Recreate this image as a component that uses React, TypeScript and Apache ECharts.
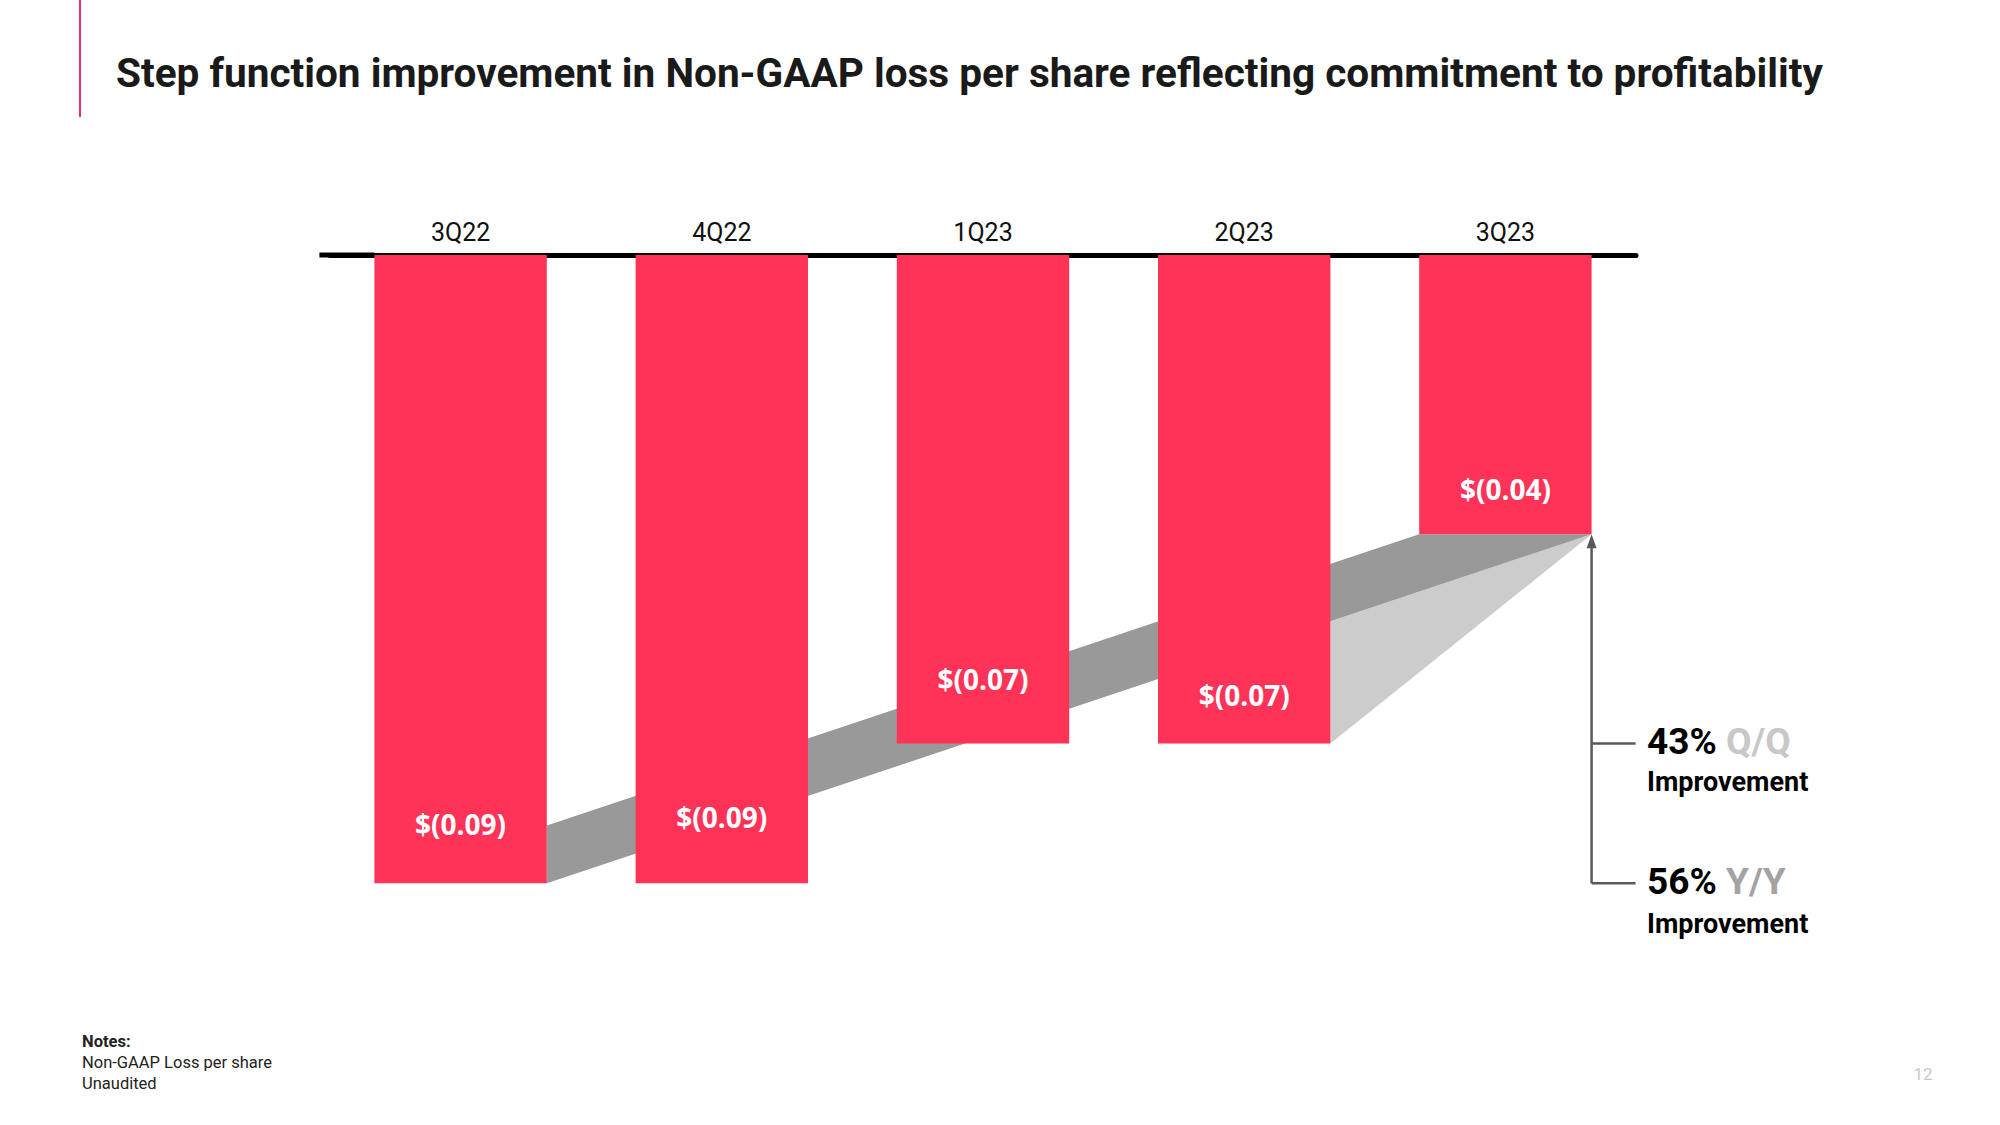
import React, { useEffect, useRef } from "react";
import * as echarts from "echarts";

const categories = ["3Q22", "4Q22", "1Q23", "2Q23", "3Q23"];
const lossPerShare = [-0.09, -0.09, -0.07, -0.07, -0.04];
const titleText =
  "Step function improvement in Non-GAAP loss per share reflecting commitment to profitability";
const notesLines = ["Notes:", "Non-GAAP Loss per share", "Unaudited"];
const qoq = { pct: "43%", tag: "Q/Q", sub: "Improvement" };
const yoy = { pct: "56%", tag: "Y/Y", sub: "Improvement" };
const pageNumber = "12";

// style-only: how far each value label sits above its bar's bottom
const labelLift = [45, 52, 51, 35, 31];
const BAR_RATIO = 0.66;
const RED = "#ff3358";

export default function App() {
  const ref = useRef<HTMLDivElement>(null);
  useEffect(() => {
    if (!ref.current) return;
    const chart = echarts.init(ref.current, undefined, { renderer: "svg" });
    const n = lossPerShare.length;
    const option: any = {
      animation: false,
      backgroundColor: "#ffffff",
      grid: { left: 330, top: 255, width: 1306, height: 698 },
      xAxis: {
        type: "category",
        data: categories,
        position: "top",
        axisLine: { show: true, lineStyle: { color: "#000", width: 5 } },
        axisTick: { show: false },
        axisLabel: {
          color: "#111",
          fontSize: 25,
          fontFamily: "Roboto",
          margin: 10,
        },
      },
      yAxis: {
        type: "value",
        min: -0.1,
        max: 0,
        show: false,
        splitLine: { show: false },
      },
      series: [
        {
          type: "custom",
          coordinateSystem: "cartesian2d",
          z: 1,
          silent: true,
          data: [[n - 1, lossPerShare[n - 1]]],
          renderItem: (params: any, api: any) => {
            const half = (api.size([1, 0])[0] * BAR_RATIO) / 2;
            const p = lossPerShare.map((v, i) => api.coord([i, v]));
            const top = api.coord([0, 0]);
            const last = n - 1;
            const prev = n - 2;
            const A = [p[0][0] + half, p[0][1]];
            const B = [p[last][0] + half, p[last][1]];
            const slope = (B[1] - A[1]) / (B[0] - A[0]);
            const C = [p[last][0] - half, p[last][1]];
            const D = [A[0], A[1] + slope * 2 * half];
            const E = [p[prev][0] + half, p[prev][1]];
            const F = [E[0], A[1] + slope * (E[0] - A[0])];
            const stroke = "#595959";
            const tickLen = 44;
            return {
              type: "group",
              children: [
                {
                  type: "line",
                  shape: { x1: p[0][0] - half - 55, y1: top[1], x2: p[0][0] - half, y2: top[1] },
                  style: { stroke: "#000", lineWidth: 5 },
                },
                {
                  type: "polygon",
                  shape: { points: [E, F, B] },
                  style: { fill: "#cccccc" },
                },
                {
                  type: "polygon",
                  shape: { points: [A, D, C, B] },
                  style: { fill: "#999999" },
                },
                {
                  type: "line",
                  shape: { x1: B[0], y1: B[1] + 12, x2: B[0], y2: p[0][1] },
                  style: { stroke, lineWidth: 2.5 },
                },
                {
                  type: "polygon",
                  shape: {
                    points: [
                      [B[0], B[1]],
                      [B[0] - 5, B[1] + 14],
                      [B[0] + 5, B[1] + 14],
                    ],
                  },
                  style: { fill: stroke },
                },
                {
                  type: "line",
                  shape: { x1: B[0], y1: p[prev][1], x2: B[0] + tickLen, y2: p[prev][1] },
                  style: { stroke, lineWidth: 2.5 },
                },
                {
                  type: "line",
                  shape: { x1: B[0], y1: p[0][1], x2: B[0] + tickLen, y2: p[0][1] },
                  style: { stroke, lineWidth: 2.5 },
                },
              ],
            };
          },
        },
        {
          type: "bar",
          z: 2,
          barWidth: BAR_RATIO * 100 + "%",
          itemStyle: { color: RED },
          data: lossPerShare.map((v, i) => ({
            value: v,
            label: { distance: labelLift[i] },
          })),
          label: {
            show: true,
            position: "insideBottom",
            color: "#ffffff",
            fontFamily: "Open Sans",
            fontWeight: "bold",
            fontSize: 28,
            formatter: (pr: any) => `$(${Math.abs(pr.value).toFixed(2)})`,
          },
        },
      ],
      graphic: [
        {
          type: "line",
          shape: { x1: 80, y1: 0, x2: 80, y2: 117 },
          style: { stroke: "#e8315a", lineWidth: 2 },
        },
        {
          type: "text",
          x: 116,
          y: 74,
          scaleX: 1.014,
          style: {
            text: titleText,
            fill: "#1a1a1a",
            font: "bold 40px Roboto",
            verticalAlign: "middle",
            align: "left",
          },
        },
        {
          type: "text",
          x: 1647,
          y: 741,
          style: {
            text: `{a|${qoq.pct} }{b|${qoq.tag}}`,
            verticalAlign: "middle",
            rich: {
              a: { fontFamily: "Roboto", fontWeight: "bold", fontSize: 37, fill: "#000" },
              b: { fontFamily: "Roboto", fontWeight: "bold", fontSize: 37, fill: "#c8c8c8" },
            },
          },
        },
        {
          type: "text",
          x: 1647,
          y: 782,
          style: {
            text: qoq.sub,
            fill: "#000",
            font: "bold 27px Roboto",
            verticalAlign: "middle",
          },
        },
        {
          type: "text",
          x: 1647,
          y: 881,
          style: {
            text: `{a|${yoy.pct} }{b|${yoy.tag}}`,
            verticalAlign: "middle",
            rich: {
              a: { fontFamily: "Roboto", fontWeight: "bold", fontSize: 37, fill: "#000" },
              b: { fontFamily: "Roboto", fontWeight: "bold", fontSize: 37, fill: "#a3a3a3" },
            },
          },
        },
        {
          type: "text",
          x: 1647,
          y: 924,
          style: {
            text: yoy.sub,
            fill: "#000",
            font: "bold 27px Roboto",
            verticalAlign: "middle",
          },
        },
        ...notesLines.map((t, i) => ({
          type: "text",
          x: 82,
          y: 1041 + i * 21,
          style: {
            text: t,
            fill: "#222",
            font: `${i === 0 ? "bold " : ""}16.5px Roboto`,
            verticalAlign: "middle",
          },
        })),
        {
          type: "text",
          x: 1923,
          y: 1074,
          style: {
            text: pageNumber,
            fill: "#c8c8c8",
            font: "17px Roboto",
            align: "center",
            verticalAlign: "middle",
          },
        },
      ],
    };
    chart.setOption(option);
    return () => chart.dispose();
  }, []);
  return (
    <div
      ref={ref}
      style={{
        position: "fixed",
        left: 0,
        top: 0,
        width: 2000,
        height: 1125,
        background: "#fff",
      }}
    />
  );
}
